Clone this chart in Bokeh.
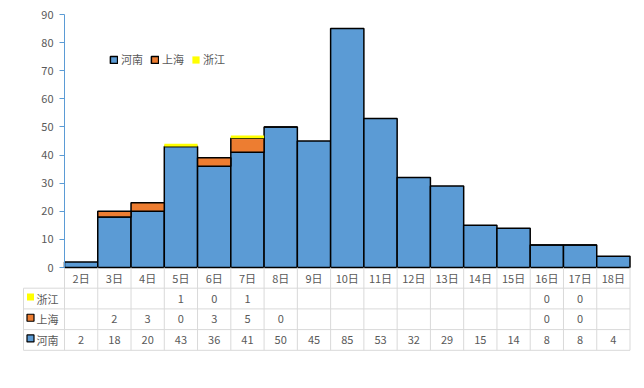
from bokeh.plotting import figure
from bokeh.models import (ColumnDataSource, LinearAxis, FixedTicker, Range1d,
                          Legend, LegendItem)
from bokeh.core.properties import value
from bokeh.embed import file_html
from bokeh.resources import INLINE

# ---- data ----
categories = ["2日", "3日", "4日", "5日", "6日", "7日", "8日", "9日", "10日",
              "11日", "12日", "13日", "14日", "15日", "16日", "17日", "18日"]
henan = [2, 18, 20, 43, 36, 41, 50, 45, 85, 53, 32, 29, 15, 14, 8, 8, 4]
shanghai = [None, 2, 3, 0, 3, 5, 0, None, None, None, None, None, None, None, 0, 0, None]
zhejiang = [None, None, None, 1, 0, 1, None, None, None, None, None, None, None, None, 0, 0, None]
series_names = ["河南", "上海", "浙江"]
y_ticks = [0, 10, 20, 30, 40, 50, 60, 70, 80, 90]

# ---- styling / layout constants ----
BLUE = "#5B9BD5"
ORANGE = "#ED7D31"
YELLOW = "#FFFF00"
TXT = "#595959"
GRID = "#D9D9D9"
FONT = "Noto Sans CJK SC"
FS = "11px"

W, H = 636, 380
K = 253 / 90.0            # px per value unit
CAT_W = (629.5 - 64) / 17  # px per category
FRAME_L, FRAME_R, FRAME_T, FRAME_B = 22, 631, 10, 352
X0_PX, Y0_PX = 64, 267
ROW_PX = 20.7

n = len(categories)
x_start = -(X0_PX - FRAME_L) / CAT_W
x_end = n + (FRAME_R - 629.5) / CAT_W
y_end = 90 + (14 - FRAME_T) / K
y_start = -(FRAME_B - Y0_PX) / K

p = figure(width=W, height=H, output_backend="svg", toolbar_location=None,
           x_range=Range1d(x_start, x_end), y_range=Range1d(y_start, y_end),
           x_axis_location=None, y_axis_location=None,
           min_border_left=FRAME_L, min_border_right=W - FRAME_R,
           min_border_top=FRAME_T, min_border_bottom=H - FRAME_B)
p.outline_line_color = None
p.grid.visible = False
p.background_fill_color = "white"

# ---- stacked bars ----
xs = [i + 0.5 for i in range(n)]
src_h = ColumnDataSource(dict(x=xs, top=henan, bottom=[0] * n))
r_h = p.vbar(x="x", width=1, top="top", bottom="bottom", source=src_h,
             fill_color=BLUE, line_color="black", line_width=1.5)

sx, sb, st = [], [], []
for i in range(n):
    if shanghai[i] is not None:
        sx.append(xs[i]); sb.append(henan[i]); st.append(henan[i] + shanghai[i])
r_s = p.vbar(x=sx, width=1, top=st, bottom=sb,
             fill_color=ORANGE, line_color="black", line_width=1.5)

zx, zb, zt = [], [], []
for i in range(n):
    if zhejiang[i] is not None:
        base = henan[i] + (shanghai[i] or 0)
        zx.append(xs[i]); zb.append(base); zt.append(base + zhejiang[i])
r_z = p.vbar(x=zx, width=1, top=zt, bottom=zb,
             fill_color=YELLOW, line_color=None)

# ---- y axis ----
yax = LinearAxis(fixed_location=0, bounds=(0, 90), ticker=FixedTicker(ticks=y_ticks))
yax.axis_line_color = BLUE
yax.major_tick_line_color = BLUE
yax.major_tick_out = 5
yax.major_tick_in = 0
yax.minor_tick_line_color = None
yax.major_label_text_color = TXT
yax.major_label_text_font = FONT
yax.major_label_text_font_size = FS
yax.major_label_standoff = 6
p.add_layout(yax, "left")

# ---- data table ----
row = ROW_PX / K
rows_y = [-(row * j) for j in range(5)]   # 0 .. bottom
left_x = x_start + 1 / CAT_W
hx0, hx1, hy = [], [], []
for j in range(1, 5):
    hx0.append(left_x); hx1.append(n); hy.append(rows_y[j])
p.segment(x0=hx0, y0=hy, x1=hx1, y1=hy, line_color=GRID, line_width=1)
vx = list(range(n + 1))
p.segment(x0=vx, y0=[0] * len(vx), x1=vx, y1=[rows_y[4]] * len(vx),
          line_color=GRID, line_width=1)
p.segment(x0=[left_x], y0=[rows_y[1]], x1=[left_x], y1=[rows_y[4]],
          line_color=GRID, line_width=1)

p.text(x=xs, y=[(rows_y[0] + rows_y[1]) / 2] * n, text=categories,
       text_align="center", text_baseline="middle", text_color=TXT,
       text_font=value(FONT), text_font_size=FS)

table_rows = [("浙江", zhejiang, YELLOW, None), ("上海", shanghai, ORANGE, "black"),
              ("河南", henan, BLUE, "black")]
for j, (name, vals, col, lc) in enumerate(table_rows):
    yc = (rows_y[j + 1] + rows_y[j + 2]) / 2
    tx = [xs[i] for i in range(n) if vals[i] is not None]
    tt = [str(vals[i]) for i in range(n) if vals[i] is not None]
    p.text(x=tx, y=[yc] * len(tx), text=tt, text_align="center", text_baseline="middle",
           text_color=TXT, text_font=value(FONT), text_font_size=FS)
    mx = x_start + (30 - FRAME_L) / CAT_W
    p.scatter(x=[mx], y=[yc + 1.5 / K], marker="square", size=7, fill_color=col,
              line_color=lc, line_width=1.2)
    p.text(x=[x_start + (36 - FRAME_L) / CAT_W], y=[yc], text=[name],
           text_align="left", text_baseline="middle", text_color=TXT,
           text_font=value(FONT), text_font_size=FS)

# ---- legend ----
legend = Legend(items=[LegendItem(label=series_names[0], renderers=[r_h]),
                       LegendItem(label=series_names[1], renderers=[r_s]),
                       LegendItem(label=series_names[2], renderers=[r_z])],
                orientation="horizontal", location=(87, FRAME_B - 67),
                glyph_width=9, glyph_height=9, label_standoff=3, spacing=7,
                padding=0, margin=0, border_line_color=None, background_fill_alpha=0,
                label_text_font=FONT, label_text_font_size=FS, label_text_color=TXT,
                label_height=14)
p.add_layout(legend, "center")

open("out.html", "w").write(file_html(p, INLINE))
